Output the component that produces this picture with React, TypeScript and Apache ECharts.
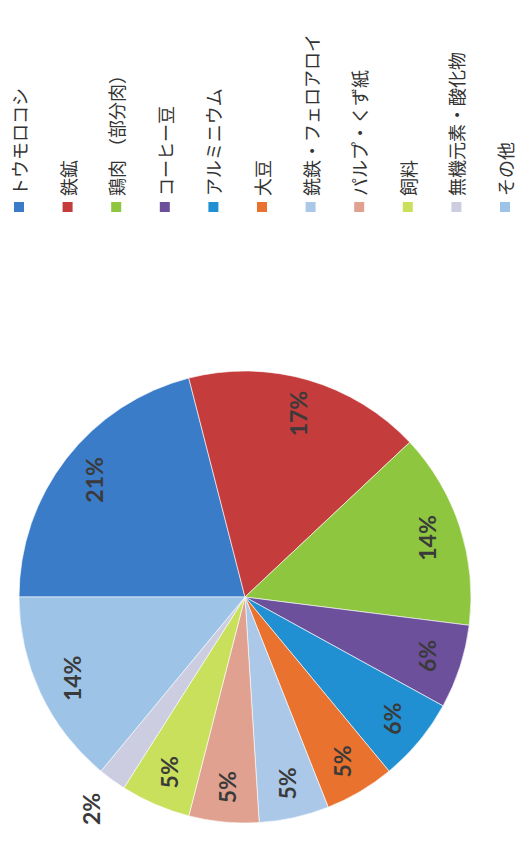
import React, { useEffect, useRef } from "react";
import * as echarts from "echarts";

const categories = [
  "トウモロコシ",
  "鉄鉱",
  "鶏肉 （部分肉）",
  "コーヒー豆",
  "アルミニウム",
  "大豆",
  "銑鉄・フェロアロイ",
  "パルプ・くず紙",
  "飼料",
  "無機元素・酸化物",
  "その他",
];
const values = [21, 17, 14, 6, 6, 5, 5, 5, 5, 2, 14];
const colors = [
  "#3b7cc8",
  "#c43c3c",
  "#8ec640",
  "#6c509c",
  "#2090d2",
  "#e8722e",
  "#abc8e8",
  "#e0a190",
  "#c9e05c",
  "#cdcde2",
  "#9dc3e7",
];
const outsideLabelIndex = [9];

export default function App() {
  const ref = useRef<HTMLDivElement>(null);
  useEffect(() => {
    document.body.style.margin = "0";
    const chart = echarts.init(ref.current!, null, { renderer: "svg" });
    const cx = 245;
    const cy = 597;
    const R = 226;
    const labelStyle = {
      show: true,
      position: "inside",
      rotate: 90,
      formatter: "{c}%",
      color: "#3a3a3a",
      fontFamily: "Lato",
      fontWeight: "bold",
      fontSize: 23,
    };
    const legendGraphics: any[] = [];
    categories.forEach((name, i) => {
      const x = 19 + i * 48.6;
      legendGraphics.push({
        type: "rect",
        shape: { x: x - 5, y: 202, width: 10, height: 10 },
        style: { fill: colors[i] },
      });
      legendGraphics.push({
        type: "text",
        x: x,
        y: 196,
        rotation: Math.PI / 2,
        style: {
          text: name,
          fill: "#333",
          font: '18px "Noto Sans CJK JP"',
          textAlign: "left",
          textVerticalAlign: "middle",
        },
      });
    });
    chart.setOption({
      animation: false,
      backgroundColor: "#ffffff",
      graphic: legendGraphics,
      series: [
        {
          type: "pie",
          center: [cx, cy],
          radius: [0, R],
          startAngle: 180,
          clockwise: true,
          silent: true,
          label: { show: false },
          labelLine: { show: false },
          itemStyle: { borderColor: "rgba(255,255,255,0.6)", borderWidth: 1 },
          data: categories.map((n, i) => ({
            name: n,
            value: values[i],
            itemStyle: { color: colors[i] },
          })),
        },
        {
          type: "pie",
          center: [cx, cy],
          radius: [150, R],
          startAngle: 180,
          clockwise: true,
          silent: true,
          itemStyle: { color: "rgba(0,0,0,0)" },
          labelLine: { show: false },
          data: categories.map((n, i) => ({
            name: n,
            value: values[i],
            label: outsideLabelIndex.includes(i) ? { show: false } : labelStyle,
          })),
        },
        {
          type: "pie",
          center: [cx, cy],
          radius: [236, 282],
          startAngle: 180,
          clockwise: true,
          silent: true,
          itemStyle: { color: "rgba(0,0,0,0)" },
          labelLine: { show: false },
          data: categories.map((n, i) => ({
            name: n,
            value: values[i],
            label: outsideLabelIndex.includes(i) ? labelStyle : { show: false },
          })),
        },
      ],
    });
    return () => chart.dispose();
  }, []);
  return <div ref={ref} style={{ width: 519, height: 842 }} />;
}
